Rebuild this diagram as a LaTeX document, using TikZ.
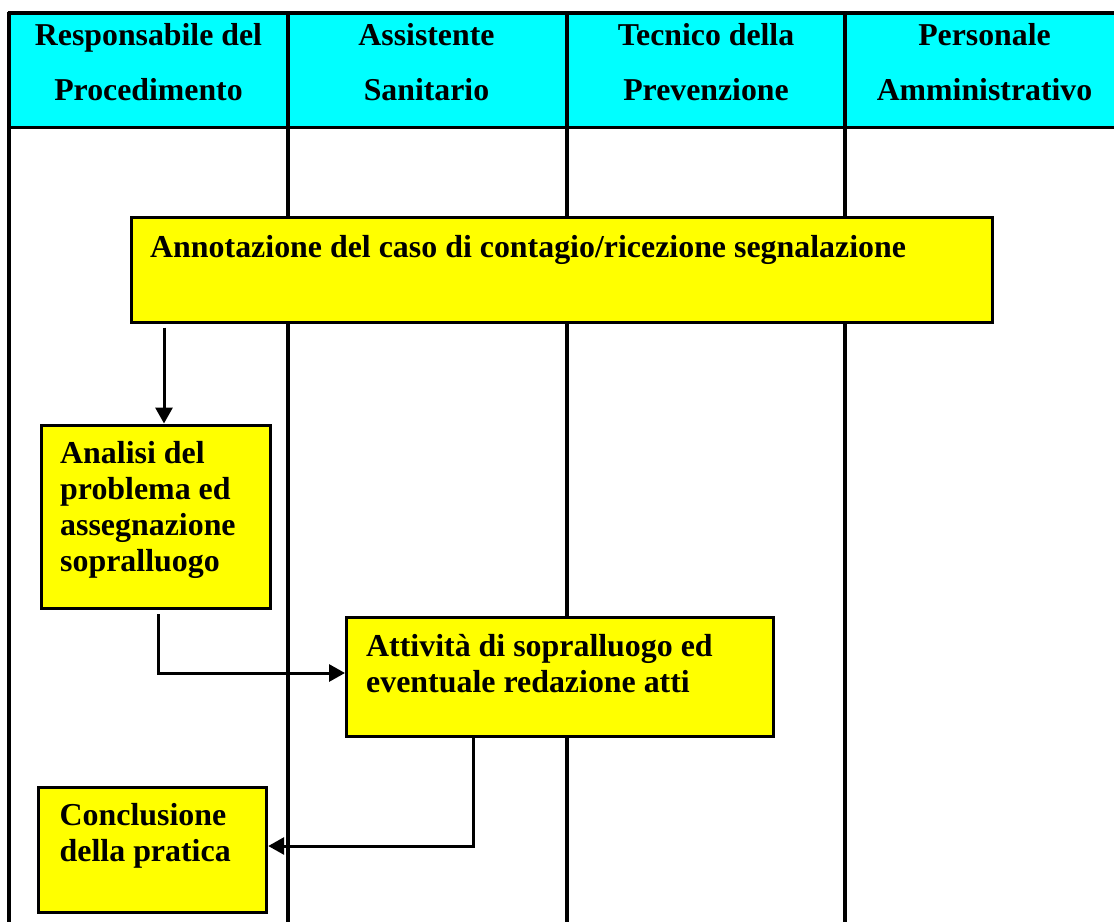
\documentclass[tikz,border=0pt]{standalone}
\usepackage{fontspec}
\setmainfont{Liberation Serif}
\usetikzlibrary{arrows.meta}
\definecolor{headcyan}{RGB}{0,255,255}
\definecolor{boxyellow}{RGB}{255,255,0}
\tikzset{
  gridline/.style={line width=3.5pt, draw=black},
  box/.style={draw=black, fill=boxyellow, line width=3.2pt, rectangle, inner sep=0pt, anchor=north west},
  headtext/.style={anchor=base, inner sep=0pt, font=\fontsize{31.8}{55}\selectfont\bfseries},
  boxtext/.style={anchor=base west, inner sep=0pt, font=\fontsize{31.9}{36}\selectfont\bfseries},
  arr/.style={line width=3pt, -{Triangle[length=16pt,width=17pt]}},
}
\begin{document}
\begin{tikzpicture}[x=1pt,y=-1pt]
\useasboundingbox (0,0) rectangle (1114,922);
% header band
\fill[headcyan] (9,13) rectangle (1114,127);
% grid
\draw[gridline] (7.5,13) -- (1114,13);
\draw[gridline] (7.5,127.5) -- (1114,127.5);
\draw[line width=4pt] (9,11.5) -- (9,922);
\draw[gridline] (288,13) -- (288,922);
\draw[gridline] (567,13) -- (567,922);
\draw[gridline] (845,13) -- (845,922);
% header texts
\node[headtext] (h1) at (148.5,45) {\begin{tabular}[t]{@{}c@{}}Responsabile del\\Procedimento\end{tabular}};
\node[headtext] (h2) at (426.5,45) {\begin{tabular}[t]{@{}c@{}}Assistente\\Sanitario\end{tabular}};
\node[headtext] (h3) at (706,45) {\begin{tabular}[t]{@{}c@{}}Tecnico della\\Prevenzione\end{tabular}};
\node[headtext] (h4) at (984.5,45) {\begin{tabular}[t]{@{}c@{}}Personale\\Amministrativo\end{tabular}};
% boxes
\node[box, minimum width=861pt, minimum height=105.5pt] (ann) at (130,215.5) {};
\node[box, minimum width=229pt, minimum height=183pt] (ana) at (39.5,423.5) {};
\node[box, minimum width=426.5pt, minimum height=119pt] (att) at (345,616) {};
\node[box, minimum width=228pt, minimum height=125pt] (con) at (37,785.5) {};
% box texts
\node[boxtext] (tann) at (150,257) {Annotazione del caso di contagio/ricezione segnalazione};
\node[boxtext] (tana) at (60,463) {\begin{tabular}[t]{@{}l@{}}Analisi del\\problema ed\\assegnazione\\sopralluogo\end{tabular}};
\node[boxtext] (tatt) at (366,656) {\begin{tabular}[t]{@{}l@{}}Attivit\`a di sopralluogo ed\\eventuale redazione atti\end{tabular}};
\node[boxtext] (tcon) at (59.5,825) {\begin{tabular}[t]{@{}l@{}}Conclusione\\della pratica\end{tabular}};
% connectors
\coordinate (k1) at (164,0);
\coordinate (k2) at (158.5,673);
\coordinate (k3) at (473,846);
\draw[arr, shorten <=3.5pt] (ann.south -| k1) -- (ana.north -| k1);
\draw[arr, shorten <=4.5pt] (ana.south -| k2) |- (k2 -| att.west);
\draw[arr] (att.south -| k3) |- (k3 -| con.east);
\end{tikzpicture}
\end{document}
